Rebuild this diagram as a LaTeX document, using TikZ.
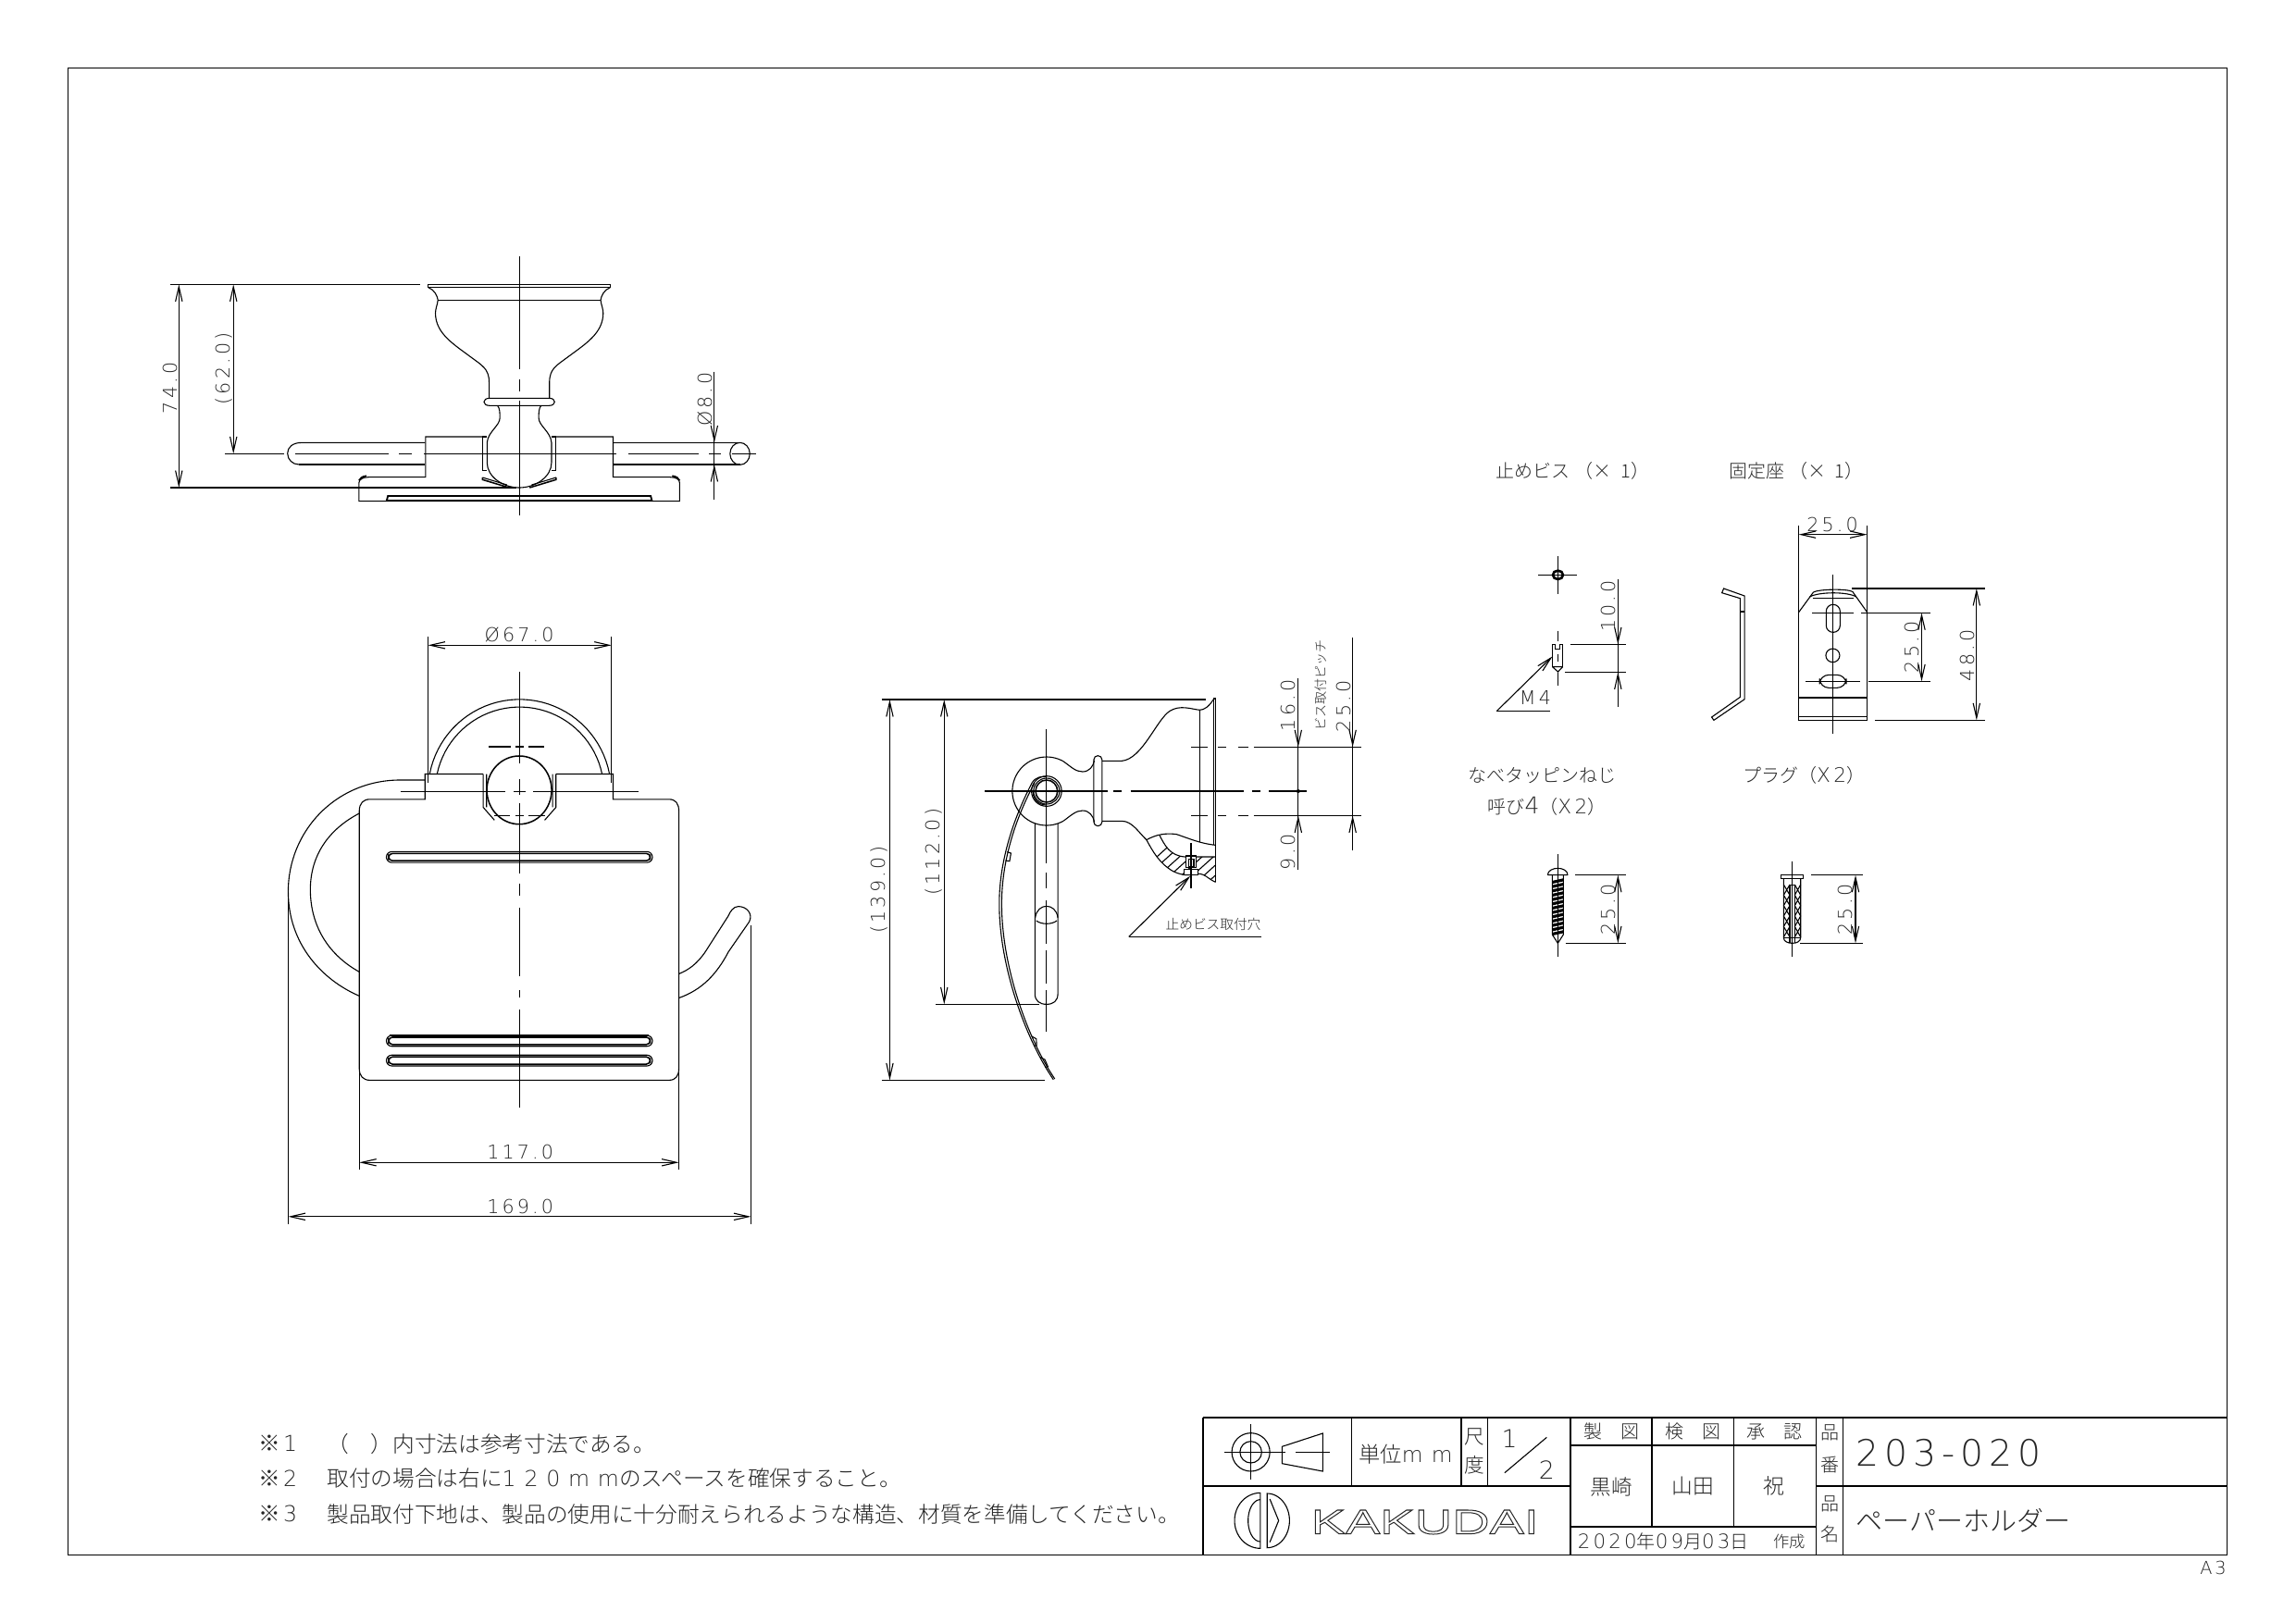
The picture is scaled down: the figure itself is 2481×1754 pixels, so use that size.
\documentclass[tikz,border=0pt]{standalone}
\usepackage{fontspec}
\usetikzlibrary{arrows.meta}
\IfFontExistsTF{Noto Sans CJK JP Light}{\newfontfamily\cjk{Noto Sans CJK JP Light}}{\newfontfamily\cjk{Noto Sans CJK JP}}
\IfFontExistsTF{DejaVu Sans ExtraLight}{\newfontfamily\digf{DejaVu Sans ExtraLight}[LetterSpace=15]}{\newfontfamily\digf{DejaVu Sans}[LetterSpace=15]}
\newfontfamily\logof{Liberation Sans}[FakeStretch=1.5]
\newcommand\fz[1]{\fontsize{#1pt}{#1pt}\selectfont}
\newcommand\outl[1]{\special{pdf:code 1 Tr 0.3 w}#1\special{pdf:code 0 Tr}}
\tikzset{
 z1/.style={shift={(150,270)},x=.13393pt,y=-.1pt},
 z2/.style={shift={(280,660)},x=.10714pt,y=-.1301pt},
 z3/.style={shift={(920,680)},x=.11099pt,y=-.1pt},
 z4/.style={shift={(1570,480)},x=.11862pt,y=-.1pt},
 z5/.style={shift={(1570,810)},x=.1pt,y=-.1pt},
 z6/.style={shift={(1290,1520)},x=.22002pt,y=-.1pt},
 z7/.style={shift={(260,1530)},x=.19898pt,y=-.1pt},
 dm/.style={{Straight Barb[length=4.8pt,width=2.2pt]}-{Straight Barb[length=4.8pt,width=2.2pt]}},
 tipa/.style={-{Straight Barb[length=4.8pt,width=2.2pt]}},
 thk/.style={line width=.55pt},
 med/.style={line width=.46pt},
 lb/.style={inner sep=0pt,text=black!85},
 dimt/.style={lb,font=\digf\fz{6.2}},
 cj/.style={lb,font=\cjk\fz{#1}},
}
\begin{document}
\begin{tikzpicture}[x=.3pt,y=-.3pt,line width=.33pt]
\useasboundingbox (0,0) rectangle (2481,1754);
\draw[thk] (73.5,73.5) rectangle (2406.5,1680.5);

%% ---------- top view
\begin{scope}[z1]
\draw (921,20)--(921,388) (921,420)--(921,460) (921,490)--(921,860);
\draw (208,661)--(352,661) (378,661)--(605,661) (630,661)--(660,661) (690,661)--(1155,661) (1185,661)--(1355,661) (1380,661)--(1410,661) (1435,661)--(1495,661);
\begin{scope}[shift={(921,0)}]
\foreach \s in {1,-1}{\begin{scope}[xscale=\s]
 \draw (0,112)--(220,112)--(220,122)--(0,122) (0,163)--(197,163);
 \draw (220,122) .. controls (205,130) and (198,150) .. (197,163) .. controls (198,178) and (203,190) .. (203,205) .. controls (203,270) and (160,305) .. (120,345) .. controls (90,375) and (73,385) .. (73,430) -- (73,481);
 \draw (0,481)--(72,481) .. controls (90,481) and (90,505) .. (72,505)--(0,505);
 \draw (53,505) .. controls (47,512) and (47,530) .. (47,545) .. controls (47,570) and (76,590) .. (78,625) -- (78,690) .. controls (78,735) and (40,771) .. (0,771);
 \draw (79,606)--(88,606)--(88,716)--(79,716);
 \draw (88,606)--(227,606)--(227,737)--(365,737) .. controls (380,737) and (388,745) .. (388,755)--(388,815)--(0,815);
 \draw[thk] (370,733) .. controls (380,735) and (386,740) .. (388,748);
 \draw[med] (89,738)--(89,745)--(25,771);
 \draw (89,738)--(30,762);
 \draw[thk] (0,798)--(318,798)--(321,813)--(0,813);
\end{scope}}
\end{scope}
\draw (693,625)--(395,625) .. controls (372,625) and (360,640) .. (360,660) .. controls (360,680) and (372,696) .. (388,696);
\draw[thk] (388,696)--(693,696);
\draw (1148,625)--(1455,625);
\draw[thk] (1148,696)--(1455,696);
\draw (1455,661) circle [x radius=24,y radius=36];
\draw (76,112)--(680,112) (76,771)--(915,771);
\draw[dm] (97,112)--(97,771);
\draw[dm] (229,112)--(229,661);
\draw (1393,395)--(1393,810);
\draw[tipa] (1393,575)--(1393,625);
\draw[tipa] (1393,745)--(1393,696);
\node[dimt,rotate=90] (d74) at (75,448) {74.0};
\node[dimt,rotate=90] (d62) at (207,385) {(62.0)};
\node[dimt,rotate=90] (d8) at (1372,485) {Ø8.0};
\end{scope}

%% ---------- front view
\begin{scope}[z2]
\draw (502,422)--(420,422) .. controls (230,425) and (88,550) .. (88,700) .. controls (88,830) and (190,920) .. (303,960);
\draw (303,505) .. controls (210,545) and (155,610) .. (155,695) .. controls (155,790) and (215,860) .. (303,900);
\draw (1270,965) .. controls (1340,945) and (1385,905) .. (1420,850) -- (1483,775) .. controls (1495,755) and (1475,737) .. (1450,737) .. controls (1435,737) and (1425,750) .. (1420,760) -- (1350,850) .. controls (1325,880) and (1300,895) .. (1270,905);
\draw (678,407)--(502,407)--(502,470)--(335,470) .. controls (315,470) and (303,480) .. (303,500)--(303,1140) .. controls (303,1160) and (315,1170) .. (335,1170)--(1240,1170) .. controls (1260,1170) and (1270,1160) .. (1270,1140)--(1270,500) .. controls (1270,480) and (1260,470) .. (1240,470)--(1071,470)--(1071,407)--(898,407);
\draw plot[domain=11:169,samples=40] ({788+277*cos(\x)},{450-229*sin(\x)});
\draw plot[domain=12:168,samples=40] ({788+255*cos(\x)},{450-210*sin(\x)});
\draw[med] (787,447) circle [x radius=98,y radius=85];
\draw (678,407)--(678,490)--(712,522) (688,407)--(688,490);
\draw (898,407)--(898,490)--(864,522) (888,407)--(888,490);
\draw (695,339)--(762,339) (775,339)--(800,339) (815,339)--(862,339);
\draw (710,510)--(760,510) (775,510)--(800,510) (815,510)--(865,510);
\draw (427,450)--(745,450) (770,450)--(805,450) (830,450)--(1148,450);
\draw (788,152)--(788,380) (788,420)--(788,460) (788,480)--(788,655) (788,680)--(788,710) (788,740)--(788,910) (788,945)--(788,965) (788,995)--(788,1238);
\foreach \yy/\nm in {614/a,1072/b,1121/c}{
 \draw[rounded corners=1.75pt] (385,\yy-13.5) rectangle (1190,\yy+13.5);
 \draw[rounded corners=1.2pt,med] (392,\yy-9) rectangle (1183,\yy+9);
}
\draw[thk] (395,1059)--(1180,1059);
\draw (511,65)--(511,430) (1066,65)--(1066,430);
\draw[dm] (511,86)--(1066,86);
\draw (303,1150)--(303,1393) (1270,1150)--(1270,1393);
\draw[dm] (303,1375)--(1270,1375);
\draw (88,720)--(88,1530) (1488,785)--(1488,1530);
\draw[dm] (88,1510)--(1488,1510);
\node[dimt] (d67) at (787,60) {Ø67.0};
\node[dimt] (d117) at (790,1350) {117.0};
\node[dimt] (d169) at (790,1485) {169.0};
\end{scope}

%% ---------- side view
\begin{scope}[z3]
\draw (88,228)--(1035,228) (88,1462)--(565,1462) (247,1216)--(548,1216);
\draw[dm] (112,228)--(112,1462);
\draw[dm] (271,228)--(271,1216);
\node[dimt,rotate=90] (d139) at (82,845) {(139.0)};
\node[dimt,rotate=90] (d112) at (240,722) {(112.0)};
\draw (1064,225)--(1064,820) (1057,228)--(1057,700) (1057,225)--(1064,225) (1017,262)--(1017,690);
\draw (1057,228) .. controls (1045,250) and (1030,262) .. (1017,262) .. controls (990,258) and (960,245) .. (930,265) .. controls (890,295) and (850,420) .. (790,427) -- (732,427);
\draw[rounded corners=1.3pt] (708,410) rectangle (732,638);
\draw plot[domain=60:300,samples=50] ({570+100*cos(\x)},{525-111*sin(\x)});
\draw (620,429) .. controls (640,445) and (655,462) .. (675,462) .. controls (695,462) and (706,445) .. (710,425);
\draw (620,621) .. controls (640,605) and (655,588) .. (675,588) .. controls (695,588) and (706,605) .. (710,625);
\draw (732,622) -- (790,622) .. controls (820,622) and (840,660) .. (862,683) .. controls (880,720) and (900,760) .. (940,785) .. controls (960,795) and (975,800) .. (1000,795) .. controls (1030,785) and (1040,810) .. (1064,820);
\draw (862,683) .. controls (890,665) and (920,660) .. (950,665) .. controls (990,680) and (1020,695) .. (1064,700);
\begin{scope}
\clip (862,683) .. controls (875,672) and (890,670) .. (900,668) .. controls (915,700) and (930,735) .. (975,738) -- (1064,738) -- (1064,820) .. controls (1040,810) and (1030,785) .. (1000,795) .. controls (975,800) and (960,795) .. (940,785) .. controls (900,760) and (880,720) .. (862,683) -- cycle;
\foreach \c in {800,833,...,1100}{\draw (\c,830)--(\c+180,650);}
\end{scope}
\draw (900,668) .. controls (915,700) and (930,735) .. (975,738) -- (1064,738);
\draw[fill=white] (972,778) rectangle (1012,797);
\draw[med,fill=white] (977,735) rectangle (1007,772);
\draw (985,745) rectangle (1000,770);
\draw (992,693)--(992,840);
\draw[tipa] (810,997)--(990,800);
\draw (810,997)--(1197,997);
\node[cj=4.4] (tHole) at (1057,957) {止めビス取付穴};
\draw (536,630)--(536,1182) .. controls (536,1205) and (550,1216) .. (570,1216) .. controls (590,1216) and (603,1205) .. (603,1182)--(603,630);
\draw (537,935) .. controls (540,910) and (555,898) .. (570,898) .. controls (585,898) and (600,910) .. (603,935);
\draw (540,945) .. controls (555,958) and (585,958) .. (600,945);
\draw (570,323)--(570,760) (570,790)--(570,840) (570,880)--(570,1020) (570,1040)--(570,1150) (570,1170)--(570,1305);
\draw (390,525)--(750,525) (765,525)--(790,525) (815,525)--(1145,525) (1170,525)--(1195,525) (1220,525)--(1330,525);
\foreach \yy in {382,604}{\draw (992,\yy)--(1040,\yy) (1070,\yy)--(1095,\yy) (1130,\yy)--(1160,\yy) (1175,\yy)--(1490,\yy);}
\draw[med] (570,525) circle [x radius=32,y radius=36];
\draw (570,525) circle [x radius=38,y radius=42];
\draw (570,525) circle [x radius=44,y radius=49];
\draw (570,570) .. controls (545,570) and (530,550) .. (530,525);
\draw (528,497) .. controls (470,620) and (430,760) .. (432,900) .. controls (434,1100) and (510,1330) .. (590,1460);
\draw (535,498) .. controls (476,620) and (437,760) .. (439,900) .. controls (441,1100) and (516,1330) .. (594,1458);
\draw (528,497) .. controls (540,478) and (555,477) .. (570,478);
\draw (455,722)--(466,726)--(462,752)--(450,750);
\draw (527,1320)--(540,1328)--(541,1350)--(533,1350);
\draw (552,1388)--(565,1395)--(574,1418)--(566,1420);
\draw (1305,160)--(1305,780);
\fill (1305,525) circle [x radius=5.5,y radius=6];
\draw[tipa] (1305,330)--(1305,382);
\draw[tipa] (1305,655)--(1305,604);
\draw (1464,27)--(1464,717);
\draw[tipa] (1464,330)--(1464,382);
\draw[tipa] (1464,655)--(1464,604);
\node[dimt,rotate=90] (d16) at (1275,247) {16.0};
\node[dimt,rotate=90] (d9) at (1275,722) {9.0};
\node[dimt,rotate=90] (d25a) at (1437,250) {25.0};
\node[cj=4.2,rotate=90] (tPitch) at (1372,180) {ビス取付ピッチ};
\end{scope}

%% ---------- parts upper
\begin{scope}[z4]
\node[cj=6,anchor=west] (tStop) at (117,88) {止めビス （×\hspace{1.9pt} 1）};
\node[cj=6,anchor=west] (tFix) at (754,88) {固定座 （×\hspace{1.5pt} 1）};
\draw[line width=.8pt] (287,424) circle [x radius=14,y radius=14];
\draw (233,424)--(338,424) (287,363)--(287,487);
\draw[med] (272,722)--(272,650)--(280,650)--(280,665)--(292,665)--(292,650)--(300,650)--(300,722);
\draw (272,722)--(300,722) (272,722)--(287,738)--(300,722);
\draw (287,605)--(287,640) (287,680)--(287,705) (287,740)--(287,783);
\draw[tipa] (120,865)--(272,688);
\draw (120,865)--(265,865);
\node[dimt] (tM4) at (225,823) {M4};
\draw (451,438)--(451,851) (320,649)--(472,649) (307,739)--(472,739);
\draw[tipa] (451,600)--(451,649);
\draw[tipa] (451,790)--(451,739);
\node[dimt,rotate=90] (d10) at (425,525) {10.0};
\draw (740,468)--(797,492)--(797,827)--(713,895)--(707,885)--(785,820)--(785,500)--(735,482)--cycle;
\draw[thk] (785,543)--(797,543);
\draw (945,515)--(945,895)--(1132,895)--(1132,515);
\draw (945,545)--(985,480) .. controls (1000,470) and (1075,468) .. (1092,478)--(1132,545);
\draw (975,495) .. controls (1000,478) and (1080,478) .. (1102,495);
\draw (985,500)--(1095,500);
\draw[thk] (945,821)--(1132,821);
\draw (945,883)--(1132,883);
\draw (1038,423)--(1038,940);
\draw[rounded corners=2.2pt] (1020,520) rectangle (1058,610);
\draw (982,547)--(1095,547);
\draw (1038,685) circle [x radius=19,y radius=22];
\draw[rounded corners=3pt] (1002,748) rectangle (1075,790);
\draw (963,769)--(1113,769);
\draw (945,265)--(945,515) (1132,265)--(1132,515);
\draw[dm] (945,293)--(1132,293);
\node[dimt] (d25b) at (1037,262) {25.0};
\draw (1090,468)--(1453,468) (1153,895)--(1453,895);
\draw[dm] (1431,468)--(1431,895);
\node[dimt,rotate=90] (d48) at (1405,685) {48.0};
\draw (1115,547)--(1305,547) (1135,769)--(1305,769);
\draw[dm] (1281,547)--(1281,769);
\node[dimt,rotate=90] (d25c) at (1255,658) {25.0};
\end{scope}

%% ---------- parts lower
\begin{scope}[z5]
\node[cj=6] (tNabe) at (290,85) {なべタッピンねじ};
\node[cj=6,anchor=west] (tYobi) at (111,183) {呼び{\digf\fz{7.5}4}（{\digf\fz{6.5}X2}）};
\node[cj=6,anchor=west] (tPlug) at (938,85) {プラグ（{\digf\fz{6.5}X2}）};
\draw (340,340)--(340,672);
\draw (307,407)--(372,407) (307,407) .. controls (307,392) and (325,385) .. (340,385) .. controls (355,385) and (372,392) .. (372,407);
\draw (322,407)--(322,600)--(340,628)--(358,600)--(358,407);
\foreach \yy in {420,434,...,592}{\draw[med] (322,\yy+8)--(358,\yy) (322,\yy+13)--(358,\yy+5);}
\draw (397,407)--(560,407) (365,628)--(560,628);
\draw[dm] (535,407)--(535,628);
\node[dimt,rotate=90] (d25d) at (503,518) {25.0};
\draw (1100,362)--(1100,672);
\draw[fill=white] (1063,407) rectangle (1136,418);
\draw (1100,362)--(1100,418);
\draw (1072,418)--(1072,610) .. controls (1072,622) and (1085,628) .. (1100,628) .. controls (1115,628) and (1127,622) .. (1127,610)--(1127,418);
\draw (1092,440)--(1092,628) (1108,440)--(1108,628) (1092,440)--(1108,440);
\foreach \yy in {438,472,506,540,574}{
 \draw (1072,\yy)--(1092,\yy+34) (1072,\yy+34)--(1092,\yy) (1108,\yy)--(1127,\yy+34) (1108,\yy+34)--(1127,\yy);
}
\draw (1072,610)--(1127,610);
\draw (1162,407)--(1330,407) (1125,628)--(1330,628);
\draw[dm] (1305,407)--(1305,628);
\node[dimt,rotate=90] (d25e) at (1273,518) {25.0};
\end{scope}

%% ---------- title block
\begin{scope}[z6]
\draw[thk] (14,37)--(1522,37) (14,37)--(14,481);
\draw[thk] (14,259)--(555,259) (433,37)--(433,259) (555,127)--(917,127) (555,391)--(917,391) (917,259)--(1522,259);
\draw (233,37)--(233,259) (394,37)--(394,259) (555,37)--(555,481) (675,37)--(675,391) (796,37)--(796,391) (917,37)--(917,481) (957,37)--(957,481);
\draw (84,148) circle [x radius=28,y radius=62];
\draw (84,148) circle [x radius=16,y radius=35];
\draw (45,148)--(125,148) (84,58)--(84,238);
\draw (130,130)--(190,87)--(190,210)--(130,185)--cycle;
\draw (115,148)--(135,148) (150,148)--(200,148);
\node[cj=7] (tUnit) at (312,155) {単位{\digf\addfontfeature{LetterSpace=40} mm}};
\node[cj=6.5] (tShaku) at (413,98) {尺};
\node[cj=6.5] (tDo) at (413,190) {度};
\node[dimt,font=\digf\fz{8}] (tOne) at (465,105) {1};
\node[dimt,font=\digf\fz{8}] (tTwo) at (520,207) {2};
\draw (520,100)--(458,215);
\node[cj=6] (tSei) at (615,82) {製　図};
\node[cj=6] (tKen) at (735,82) {検　図};
\node[cj=6] (tSho) at (855,82) {承　認};
\node[cj=6.8] (tKuro) at (615,262) {黒崎};
\node[cj=6.8] (tYama) at (735,258) {山田};
\node[cj=6.8] (tIwai) at (855,258) {祝};
\node[cj=6,anchor=west] (tDate) at (565,437) {{\digf\fz{6.4}2020}年{\digf\fz{6.4}09}月{\digf\fz{6.4}03}日};
\node[cj=5.2] (tSak) at (878,437) {作成};
\node[cj=6] (tH1) at (937,85) {品};
\node[cj=6] (tBan) at (937,190) {番};
\node[cj=6] (tH2) at (937,315) {品};
\node[cj=6] (tMei) at (937,415) {名};
\node[dimt,font=\digf\fz{11.8},anchor=west] (tNo) at (975,150) {203-020};
\node[cj=8.7,anchor=west] (tName) at (975,370) {ペーパーホルダー};
\draw plot[domain=90:270,samples=30] ({98+38*cos(\x)},{370-90*sin(\x)}) -- cycle;
\draw plot[domain=90:270,samples=30] ({98+18*cos(\x)},{370-68*sin(\x)});
\draw plot[domain=-90:90,samples=30] ({108+33*cos(\x)},{370-88*sin(\x)}) -- (108,365) -- cycle;
\draw (112,300)--(125,370)--(112,440);
\node[lb,font=\logof\fz{11.2},anchor=west] (tLogo) at (172,375) {\outl{KAKUDAI}};
\node[dimt,font=\digf\fz{5.8}] (tA3) at (1502,522) {A3};
\end{scope}

%% ---------- notes
\begin{scope}[z7]
\node[cj=7.1,anchor=west] (tN1) at (28,90) {※\hspace{1pt}{\digf 1}};
\node[cj=7.1,anchor=west] (tN1b) at (140,90) {（　）内寸法は参考寸法である。};
\node[cj=7.1,anchor=west] (tN2) at (28,203) {※\hspace{1pt}{\digf 2}};
\node[cj=7.1,anchor=west] (tN2b) at (140,203) {取付の場合は右に{\digf\addfontfeature{LetterSpace=37}120mm}のスペースを確保すること。};
\node[cj=7.1,anchor=west] (tN3) at (28,318) {※\hspace{1pt}{\digf 3}};
\node[cj=7.1,anchor=west] (tN3b) at (140,318) {製品取付下地は、製品の使用に十分耐えられるような構造、材質を準備してください。};
\end{scope}
\end{tikzpicture}
\end{document}
